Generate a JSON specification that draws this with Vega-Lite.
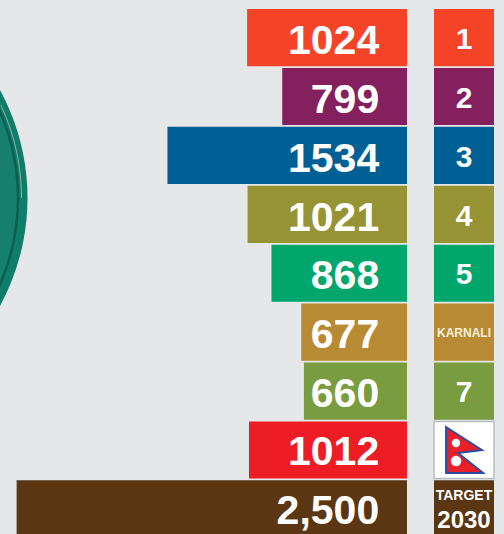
{"$schema":"https://vega.github.io/schema/vega-lite/v6.json","width":504,"height":534,"padding":0,"autosize":{"type":"none"},"background":"#e6e7e9","view":{"stroke":null},
"datasets":{"rows":[
{"row":"1","value":1024,"display":"1024","box":"1"},
{"row":"2","value":799,"display":"799","box":"2"},
{"row":"3","value":1534,"display":"1534","box":"3"},
{"row":"4","value":1021,"display":"1021","box":"4"},
{"row":"5","value":868,"display":"868","box":"5"},
{"row":"Karnali","value":677,"display":"677","box":"KARNALI"},
{"row":"7","value":660,"display":"660","box":"7"},
{"row":"Nepal","value":1012,"display":"1012","box":""},
{"row":"Target","value":2500,"display":"2,500","box":"TARGET"}],
"one":[{"item":"shape"}]},
"resolve":{"scale":{"x":"independent","y":"independent","color":"independent","size":"independent"}},
"layer":[
{"data":{"name":"one"},"mark":{"type":"point","shape":"circle","filled":true,"opacity":1,"fill":"#0f7d68","stroke":null},
"encoding":{"x":{"datum":-198,"type":"quantitative","scale":{"domain":[0,504],"range":[0,504]},"axis":null},"y":{"datum":198,"type":"quantitative","scale":{"domain":[0,534],"range":[0,534]},"axis":null},"size":{"value":203401}}},
{"data":{"name":"one"},"mark":{"type":"point","shape":"circle","filled":true,"opacity":1,"fill":"#17806c","stroke":"#0a5f55","strokeWidth":2.5},
"encoding":{"x":{"datum":-198,"type":"quantitative","scale":{"domain":[0,504],"range":[0,504]},"axis":null},"y":{"datum":198,"type":"quantitative","scale":{"domain":[0,534],"range":[0,534]},"axis":null},"size":{"value":186624}}},
{"data":{"name":"one"},"mark":{"type":"arc","radius":220,"radius2":219,"theta":1.134,"theta2":1.571,"color":"#8fb0a8"},
"encoding":{"x":{"datum":-198,"type":"quantitative","scale":{"domain":[0,504],"range":[0,504]},"axis":null},"y":{"datum":198,"type":"quantitative","scale":{"domain":[0,534],"range":[0,534]},"axis":null}}},
{"data":{"name":"rows"},"mark":{"type":"bar"},
"encoding":{"y":{"field":"row","type":"nominal","sort":null,"scale":{"domain":["1","2","3","4","5","Karnali","7","Nepal","Target"],"range":[9,537.5],"paddingInner":0.03,"paddingOuter":0},"axis":null},
"x":{"field":"value","type":"quantitative","scale":{"domain":[0,2600],"range":[407,1]},"axis":null},
"color":{"field":"row","type":"nominal","legend":null,"scale":{"domain":["1","2","3","4","5","Karnali","7","Nepal","Target"],"range":["#f44327","#85205f","#005f94","#969335","#00a66c","#b88a33","#7a9c40","#ee1c25","#5a3612"]}}}},
{"data":{"name":"rows"},"mark":{"type":"text","align":"right","baseline":"middle","dy":4,"font":"Liberation Sans","fontWeight":"bold","fontSize":41,"color":"#ffffff"},
"encoding":{"y":{"field":"row","type":"nominal","sort":null,"scale":{"domain":["1","2","3","4","5","Karnali","7","Nepal","Target"],"range":[9,537.5],"paddingInner":0.03,"paddingOuter":0},"axis":null},
"x":{"datum":178,"type":"quantitative","scale":{"domain":[0,2600],"range":[407,1]},"axis":null},
"text":{"field":"display"}}},
{"data":{"name":"rows"},"mark":{"type":"bar","strokeWidth":1.5},
"encoding":{"y":{"field":"row","type":"nominal","sort":null,"scale":{"domain":["1","2","3","4","5","Karnali","7","Nepal","Target"],"range":[9,537.5],"paddingInner":0.03,"paddingOuter":0},"axis":null},
"x":{"datum":0,"type":"quantitative","scale":{"domain":[0,1],"range":[434,494]},"axis":null},"x2":{"datum":1},
"stroke":{"condition":{"test":"datum.row == 'Nepal'","value":"#b9bcc4"},"value":null},
"color":{"field":"row","type":"nominal","legend":null,"scale":{"domain":["1","2","3","4","5","Karnali","7","Nepal","Target"],"range":["#f44327","#85205f","#005f94","#969335","#00a66c","#b88a33","#7a9c40","#ffffff","#5a3612"]}}}},
{"data":{"name":"rows"},"transform":[{"filter":"datum.row != 'Karnali' && datum.row != 'Target' && datum.row != 'Nepal'"}],"mark":{"type":"text","align":"center","baseline":"middle","dy":2,"font":"Liberation Sans","fontWeight":"bold","fontSize":30,"color":"#ffffff"},
"encoding":{"y":{"field":"row","type":"nominal","sort":null,"scale":{"domain":["1","2","3","4","5","Karnali","7","Nepal","Target"],"range":[9,537.5],"paddingInner":0.03,"paddingOuter":0},"axis":null},
"x":{"datum":0.5,"type":"quantitative","scale":{"domain":[0,1],"range":[434,494]},"axis":null},"text":{"field":"box"}}},
{"data":{"name":"rows"},"transform":[{"filter":"datum.row == 'Karnali'"}],"mark":{"type":"text","align":"center","baseline":"middle","dy":1,"font":"Liberation Sans","fontWeight":"bold","fontSize":12,"color":"#f6efdc"},
"encoding":{"y":{"field":"row","type":"nominal","sort":null,"scale":{"domain":["1","2","3","4","5","Karnali","7","Nepal","Target"],"range":[9,537.5],"paddingInner":0.03,"paddingOuter":0},"axis":null},
"x":{"datum":0.5,"type":"quantitative","scale":{"domain":[0,1],"range":[434,494]},"axis":null},"text":{"field":"box"}}},
{"data":{"name":"rows"},"transform":[{"filter":"datum.row == 'Target'"}],"mark":{"type":"text","align":"center","baseline":"middle","dy":-12,"font":"Liberation Sans","fontWeight":"bold","fontSize":14,"color":"#ffffff"},
"encoding":{"y":{"field":"row","type":"nominal","sort":null,"scale":{"domain":["1","2","3","4","5","Karnali","7","Nepal","Target"],"range":[9,537.5],"paddingInner":0.03,"paddingOuter":0},"axis":null},
"x":{"datum":0.5,"type":"quantitative","scale":{"domain":[0,1],"range":[434,494]},"axis":null},"text":{"field":"box"}}},
{"data":{"name":"rows"},"transform":[{"filter":"datum.row == 'Target'"}],"mark":{"type":"text","align":"center","baseline":"middle","dy":13,"font":"Liberation Sans","fontWeight":"bold","fontSize":24,"color":"#ffffff","text":"2030"},
"encoding":{"y":{"field":"row","type":"nominal","sort":null,"scale":{"domain":["1","2","3","4","5","Karnali","7","Nepal","Target"],"range":[9,537.5],"paddingInner":0.03,"paddingOuter":0},"axis":null},
"x":{"datum":0.5,"type":"quantitative","scale":{"domain":[0,1],"range":[434,494]},"axis":null}}},
{"data":{"name":"one"},"mark":{"type":"point","filled":true,"opacity":1,"fill":"#e8202a","stroke":"#2a4fa0","strokeWidth":2,"shape":"M-0.78,-1 L0.78,0 L-0.26,0.13 L0.83,1 L-0.78,1 Z"},
"encoding":{"x":{"datum":464,"type":"quantitative","scale":{"domain":[0,504],"range":[0,504]},"axis":null},"y":{"datum":450,"type":"quantitative","scale":{"domain":[0,534],"range":[0,534]},"axis":null},"size":{"value":2116}}},
{"data":{"name":"one"},"mark":{"type":"point","shape":"circle","filled":true,"opacity":1,"fill":"#ffffff","stroke":null},
"encoding":{"x":{"datum":456,"type":"quantitative","scale":{"domain":[0,504],"range":[0,504]},"axis":null},"y":{"datum":443,"type":"quantitative","scale":{"domain":[0,534],"range":[0,534]},"axis":null},"size":{"value":70}}},
{"data":{"name":"one"},"mark":{"type":"point","shape":"circle","filled":true,"opacity":1,"fill":"#ffffff","stroke":null},
"encoding":{"x":{"datum":456,"type":"quantitative","scale":{"domain":[0,504],"range":[0,504]},"axis":null},"y":{"datum":461,"type":"quantitative","scale":{"domain":[0,534],"range":[0,534]},"axis":null},"size":{"value":110}}}
]}
